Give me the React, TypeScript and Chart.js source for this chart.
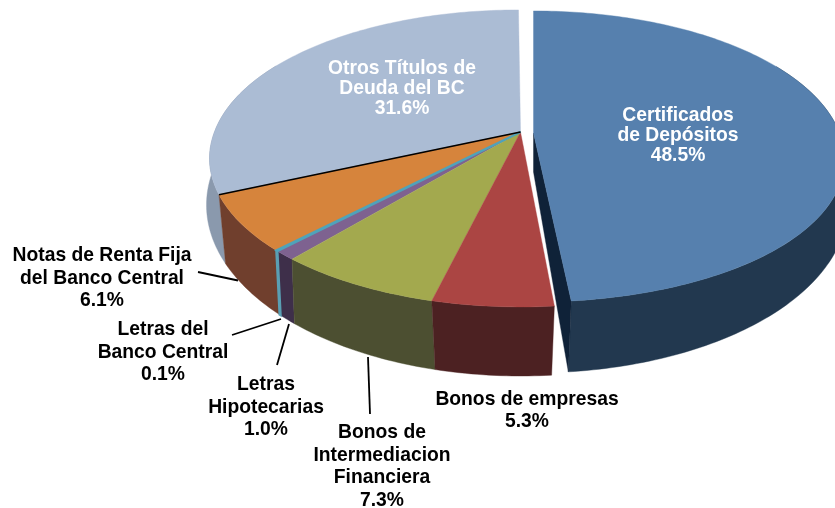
import React, { useEffect, useRef } from "react";
import { Chart, registerables } from "chart.js";

Chart.register(...registerables);

const categories = [
  "Certificados de Depósitos",
  "Bonos de empresas",
  "Bonos de Intermediacion Financiera",
  "Letras Hipotecarias",
  "Letras del Banco Central",
  "Notas de Renta Fija del Banco Central",
  "Otros Títulos de Deuda del BC",
];
const shares = [48.5, 5.3, 7.3, 1.0, 0.1, 6.1, 31.6];
const topColors = ["#5680ae", "#ab4543", "#a3a94e", "#7e6290", "#4fa3ba", "#d6843c", "#abbcd4"];
const wallColors = ["#22384f", "#4c2122", "#4c4f31", "#3e2f4a", "#5a9fb3", "#703f2d", "#8a99ad"];
const labelLines = [
  ["Certificados", "de Depósitos"],
  ["Bonos de empresas"],
  ["Bonos de", "Intermediacion", "Financiera"],
  ["Letras", "Hipotecarias"],
  ["Letras del", "Banco Central"],
  ["Notas de Renta Fija", "del Banco Central"],
  ["Otros Títulos de", "Deuda del BC"],
];

// Layout of the drawing, kept apart from the data
const APEX = { x: 520.5, y: 132 };
const TOP = { rx: 306, ry: 143.8, k: 0.178 };
const BASE = { cx: 520.5, cy: 205, a: 314, b: 171 };
const EXPLODE = { dx: 13, dy: 1, angle: 174 / 174.6, topY: 0.034, baseY: 0.976 };
const APEX_DEPTH = 39;
const THIN_SLICE = 4;
const labelAnchors = [
  { x: 678, y: 116, color: "#ffffff", gap: 20 },
  { x: 527, y: 400, color: "#000000", gap: 22 },
  { x: 382, y: 433, color: "#000000", gap: 22.5 },
  { x: 266, y: 385, color: "#000000", gap: 22.5 },
  { x: 163, y: 330, color: "#000000", gap: 22.5 },
  { x: 102, y: 256, color: "#000000", gap: 22.5 },
  { x: 402, y: 69, color: "#ffffff", gap: 20 },
];
const leaders = [
  [198, 272, 238, 280.5],
  [232, 335, 281, 319],
  [277, 365, 289, 324],
  [368, 357, 370, 414],
];

const topRim = (deg: number) => {
  const t = (deg * Math.PI) / 180;
  const u = Math.sin(t);
  const v = -Math.cos(t);
  const w = 1 - TOP.k * v;
  const y = (TOP.ry * v) / w;
  const lean = deg > 270 ? 0.0164 * Math.min(y, 0) : 0;
  return { x: APEX.x + (TOP.rx * u) / w + lean, y: APEX.y + y };
};
const baseRim = (deg: number) => {
  const s = Math.sin((2 * deg * Math.PI) / 180);
  const warp = 6 * Math.sign(s) * Math.pow(Math.abs(s), 1.5);
  const a = ((deg + warp) * Math.PI) / 180;
  return { x: BASE.cx + BASE.a * Math.sin(a), y: BASE.cy - BASE.b * Math.cos(a) };
};
const explodedTop = (deg: number) => {
  const p = topRim(deg * EXPLODE.angle);
  const front = Math.max(0, -Math.cos((deg * Math.PI) / 180));
  return {
    x: p.x + EXPLODE.dx,
    y: APEX.y + EXPLODE.dy + (p.y - APEX.y) * (1 - EXPLODE.topY * front),
  };
};
const explodedBase = (deg: number) => {
  const p = baseRim(deg * EXPLODE.angle);
  return { x: p.x + EXPLODE.dx, y: BASE.cy + EXPLODE.dy + (p.y - BASE.cy) * EXPLODE.baseY };
};

const pie3d = {
  id: "pie3d",
  beforeDatasetsDraw(chart: any) {
    const ctx = chart.ctx as CanvasRenderingContext2D;
    const arcs = chart.getDatasetMeta(0).data;
    const spans = arcs.map((arc: any) => {
      const p = arc.getProps(["startAngle", "endAngle"], true);
      return {
        from: (p.startAngle * 180) / Math.PI + 90,
        to: (p.endAngle * 180) / Math.PI + 90,
      };
    });
    const range = (a: number, b: number) => {
      const out: number[] = [];
      const n = Math.max(1, Math.ceil(Math.abs(b - a)));
      for (let s = 0; s <= n; s++) out.push(a + ((b - a) * s) / n);
      return out;
    };
    const fillPath = (pts: { x: number; y: number }[], color: string, edge = 0.4) => {
      ctx.beginPath();
      pts.forEach((p, n) => (n ? ctx.lineTo(p.x, p.y) : ctx.moveTo(p.x, p.y)));
      ctx.closePath();
      ctx.fillStyle = color;
      ctx.fill();
      ctx.strokeStyle = color;
      ctx.lineWidth = edge;
      ctx.stroke();
    };
    const apexOf = (i: number) =>
      i === 0 ? { x: APEX.x + EXPLODE.dx, y: APEX.y + EXPLODE.dy } : APEX;
    const edgeOf = (i: number) => (i === THIN_SLICE ? 2 : 0.4);

    ctx.save();
    // outer walls, only the part that faces the viewer
    [6, 5, 3, 2, 1, 0, 4].forEach((i) => {
      const from = Math.max(spans[i].from, 60);
      const to = Math.min(spans[i].to, 300);
      if (to <= from) return;
      const t = i === 0 ? explodedTop : topRim;
      const b = i === 0 ? explodedBase : baseRim;
      fillPath([...range(from, to).map(t), ...range(to, from).map(b)], wallColors[i], edgeOf(i));
    });
    // cut face of the pulled-out slice
    const end0 = spans[0].to;
    const a0 = apexOf(0);
    fillPath(
      [a0, explodedTop(end0), explodedBase(end0), { x: a0.x, y: a0.y + APEX_DEPTH }],
      "#0f2238"
    );
    // top faces
    [6, 5, 3, 2, 1, 0, 4].forEach((i) => {
      const t = i === 0 ? explodedTop : topRim;
      fillPath([apexOf(i), ...range(spans[i].from, spans[i].to).map(t)], topColors[i], edgeOf(i));
    });
    // dark seam at the start of the last slice
    const seam = topRim(spans[6].from);
    ctx.beginPath();
    ctx.moveTo(seam.x, seam.y);
    ctx.lineTo(APEX.x, APEX.y);
    ctx.strokeStyle = "#000000";
    ctx.lineWidth = 1.6;
    ctx.stroke();
    ctx.restore();
    return false;
  },
  afterDraw(chart: any) {
    const ctx = chart.ctx as CanvasRenderingContext2D;
    ctx.save();
    ctx.strokeStyle = "#000000";
    ctx.lineWidth = 1.8;
    leaders.forEach(([x1, y1, x2, y2]) => {
      ctx.beginPath();
      ctx.moveTo(x1, y1);
      ctx.lineTo(x2, y2);
      ctx.stroke();
    });
    ctx.font = 'bold 19.3px "Liberation Sans", Arial, sans-serif';
    ctx.textAlign = "center";
    ctx.textBaseline = "middle";
    labelAnchors.forEach((a, i) => {
      const lines = [...labelLines[i], `${shares[i].toFixed(1)}%`];
      ctx.fillStyle = a.color;
      lines.forEach((line, n) => ctx.fillText(line, a.x, a.y + n * a.gap));
    });
    ctx.restore();
  },
};

export default function App() {
  const ref = useRef<HTMLCanvasElement | null>(null);
  useEffect(() => {
    if (!ref.current) return;
    const chart = new Chart(ref.current, {
      type: "pie",
      data: {
        labels: categories,
        datasets: [{ data: shares, backgroundColor: topColors, borderWidth: 0 }],
      },
      options: {
        animation: false,
        responsive: false,
        plugins: { legend: { display: false }, tooltip: { enabled: false } },
      },
      plugins: [pie3d],
    } as any);
    return () => chart.destroy();
  }, []);
  return (
    <canvas
      ref={ref}
      width={835}
      height={508}
      style={{ position: "fixed", left: 0, top: 0, width: 835, height: 508, background: "#fff" }}
    />
  );
}
